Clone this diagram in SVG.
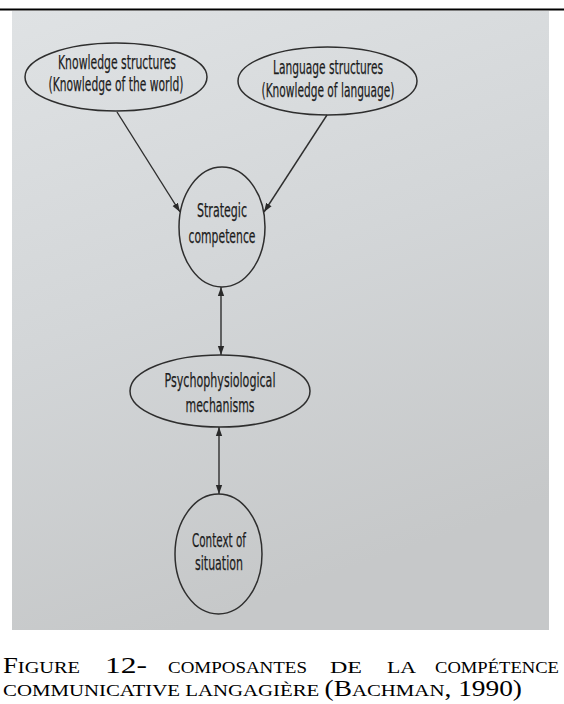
<svg xmlns="http://www.w3.org/2000/svg" width="564" height="704" viewBox="0 0 564 704">
<defs>
<linearGradient id="bg" x1="0" y1="0" x2="0.3" y2="1">
<stop offset="0" stop-color="#dfe2e4"/>
<stop offset="0.5" stop-color="#d3d6d8"/>
<stop offset="1" stop-color="#c6c8c9"/>
</linearGradient>
<marker id="ah" viewBox="0 0 10 10" refX="10" refY="5" markerWidth="9" markerHeight="9" markerUnits="userSpaceOnUse" orient="auto-start-reverse">
<path d="M0,1.5 L10,5 L0,8.5 Z" fill="#2a2a2a"/>
</marker>
</defs>
<style>
.shape{fill:none;stroke:#2e2e2e;stroke-width:1.5}
.lbl{font-family:"DejaVu Sans","Liberation Sans",sans-serif;font-size:19px;fill:#1c1c1c;stroke:#1c1c1c;stroke-width:0.25;text-anchor:middle}
.conn{stroke:#2e2e2e;stroke-width:1.4;fill:none}
.cap{font-family:"Liberation Serif","Times New Roman",serif;fill:#000;font-size:23px}
.sc{font-size:17.5px}
</style>
<rect x="0" y="0" width="564" height="704" fill="#ffffff"/>
<line x1="0" y1="9.5" x2="564" y2="9.5" stroke="#000" stroke-width="2"/>
<rect x="12" y="11" width="537" height="619" fill="url(#bg)"/>

<g id="connectors">
<line class="conn" x1="117" y1="112" x2="180" y2="212" marker-end="url(#ah)"/>
<line class="conn" x1="327" y1="115" x2="264" y2="212" marker-end="url(#ah)"/>
<line class="conn" x1="221" y1="287" x2="221" y2="355" marker-start="url(#ah)" marker-end="url(#ah)"/>
<line class="conn" x1="219" y1="427" x2="219" y2="494" marker-start="url(#ah)" marker-end="url(#ah)"/>
</g>

<g id="knowledge-structures">
<ellipse class="shape" cx="116" cy="77" rx="91" ry="34"/>
<text class="lbl" x="117" y="68.5" textLength="118" lengthAdjust="spacingAndGlyphs">Knowledge structures</text>
<text class="lbl" x="116" y="91" textLength="135" lengthAdjust="spacingAndGlyphs">(Knowledge of the world)</text>
</g>

<g id="language-structures">
<ellipse class="shape" cx="327.5" cy="81" rx="89.5" ry="34"/>
<text class="lbl" x="328" y="74" textLength="110" lengthAdjust="spacingAndGlyphs">Language structures</text>
<text class="lbl" x="328" y="96.5" textLength="133" lengthAdjust="spacingAndGlyphs">(Knowledge of language)</text>
</g>

<g id="strategic-competence">
<ellipse class="shape" cx="222" cy="227" rx="43" ry="60"/>
<text class="lbl" x="222" y="217" textLength="50" lengthAdjust="spacingAndGlyphs">Strategic</text>
<text class="lbl" x="222" y="243" textLength="67" lengthAdjust="spacingAndGlyphs">competence</text>
</g>

<g id="psychophysiological-mechanisms">
<ellipse class="shape" cx="220" cy="391" rx="90" ry="36"/>
<text class="lbl" x="220" y="387" textLength="111" lengthAdjust="spacingAndGlyphs">Psychophysiological</text>
<text class="lbl" x="220" y="412" textLength="69" lengthAdjust="spacingAndGlyphs">mechanisms</text>
</g>

<g id="context-of-situation">
<ellipse class="shape" cx="218.5" cy="554" rx="43.5" ry="60"/>
<text class="lbl" x="219" y="547" textLength="54" lengthAdjust="spacingAndGlyphs">Context of</text>
<text class="lbl" x="219" y="570" textLength="48" lengthAdjust="spacingAndGlyphs">situation</text>
</g>

<g id="caption">
<text class="cap" x="3" y="673" textLength="77" lengthAdjust="spacingAndGlyphs">F<tspan class="sc">IGURE</tspan></text>
<text class="cap" x="105" y="673" font-size="21" textLength="42" lengthAdjust="spacingAndGlyphs">12-</text>
<text class="cap sc" x="168" y="673" textLength="139" lengthAdjust="spacingAndGlyphs">COMPOSANTES</text>
<text class="cap sc" x="330" y="673" textLength="32" lengthAdjust="spacingAndGlyphs">DE</text>
<text class="cap sc" x="387" y="673" textLength="29" lengthAdjust="spacingAndGlyphs">LA</text>
<text class="cap sc" x="435" y="673" textLength="124" lengthAdjust="spacingAndGlyphs">COMPÉTENCE</text>
<text class="cap" x="3" y="696" textLength="519" lengthAdjust="spacingAndGlyphs"><tspan class="sc">COMMUNICATIVE LANGAGIÈRE </tspan>(B<tspan class="sc">ACHMAN</tspan>, 1990)</text>
</g>
</svg>
